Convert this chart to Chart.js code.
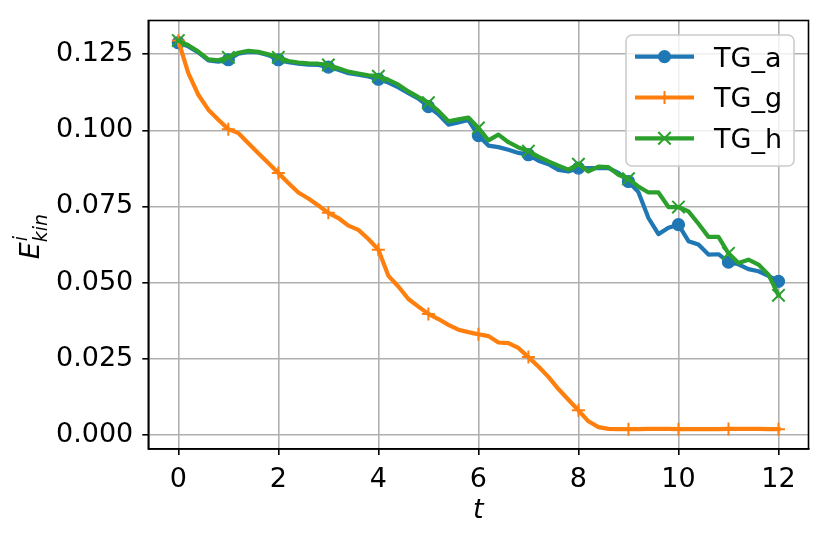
<!DOCTYPE html>
<html>
<head>
<meta charset="utf-8">
<script src="https://cdn.jsdelivr.net/npm/chart.js@4.4.1/dist/chart.umd.min.js"></script>
<style>
  html, body { margin: 0; padding: 0; background: #fff; }
  #wrap { width: 830px; height: 539px; }
</style>
</head>
<body>
<div id="wrap"><canvas id="c" width="830" height="539"></canvas></div>
<script>
// ---- data ----
const tValues = [0,0.2,0.4,0.6,0.8,1,1.2,1.4,1.6,1.8,2,2.2,2.4,2.6,2.8,3,3.2,3.4,3.6,3.8,4,4.2,4.4,4.6,4.8,5,5.2,5.4,5.6,5.8,6,6.2,6.4,6.6,6.8,7,7.2,7.4,7.6,7.8,8,8.2,8.4,8.6,8.8,9,9.2,9.4,9.6,9.8,10,10.2,10.4,10.6,10.8,11,11.2,11.4,11.6,11.8,12];

const tgA = [0.1288,0.1276,0.1256,0.1230,0.1226,0.1232,0.1252,0.1258,0.1256,0.1247,
             0.1232,0.1224,0.1219,0.1216,0.1215,0.1208,0.1199,0.1188,0.1183,0.1177,
             0.1168,0.1157,0.1141,0.1122,0.1104,0.1078,0.1053,0.1019,0.1026,0.1034,
             0.0983,0.0950,0.0945,0.0936,0.0926,0.0920,0.0900,0.0889,0.0870,0.0865,
             0.0876,0.0876,0.0876,0.0876,0.0860,0.0832,0.0797,0.0712,0.0659,0.0680,
             0.0690,0.0636,0.0625,0.0592,0.0593,0.0567,0.0560,0.0544,0.0537,0.0522,
             0.0504];

const tgG = [0.1295,0.1188,0.1117,0.1068,0.1035,0.1004,0.0991,0.0958,0.0925,0.0893,
             0.0860,0.0827,0.0796,0.0776,0.0753,0.0729,0.0712,0.0687,0.0673,0.0643,
             0.0608,0.0522,0.0487,0.0446,0.0421,0.0397,0.0380,0.0361,0.0345,0.0337,
             0.0330,0.0324,0.0303,0.0301,0.0285,0.0255,0.0224,0.0190,0.0150,0.0115,
             0.0080,0.0044,0.0025,0.0019,0.0018,0.0018,0.0018,0.0019,0.0019,0.0019,
             0.0018,0.0018,0.0018,0.0018,0.0018,0.0019,0.0019,0.0019,0.0019,0.0018,
             0.0018];

const tgH = [0.1295,0.1280,0.1259,0.1233,0.1230,0.1240,0.1255,0.1261,0.1258,0.1250,
             0.1240,0.1228,0.1223,0.1220,0.1219,0.1215,0.1204,0.1193,0.1187,0.1181,
             0.1178,0.1166,0.1150,0.1128,0.1109,0.1091,0.1064,0.1030,0.1036,0.1042,
             0.1008,0.0967,0.0986,0.0961,0.0944,0.0932,0.0914,0.0898,0.0884,0.0871,
             0.0889,0.0865,0.0881,0.0879,0.0854,0.0841,0.0815,0.0796,0.0796,0.0748,
             0.0748,0.0734,0.0693,0.0650,0.0650,0.0596,0.0564,0.0575,0.0559,0.0526,
             0.0458];

const seriesNames = ['TG_a', 'TG_g', 'TG_h'];
const xTicks = [0, 2, 4, 6, 8, 10, 12];
const xTickLabels = ['0', '2', '4', '6', '8', '10', '12'];
const yTicks = [0, 0.025, 0.05, 0.075, 0.1, 0.125];
const yTickLabels = ['0.000', '0.025', '0.050', '0.075', '0.100', '0.125'];
const xRange = [-0.6, 12.6];
const yRange = [-0.0047, 0.1361];
const markEvery = 5;

// ---- styles ----
const colors = ['#1f77b4', '#ff7f0e', '#2ca02c'];
const FONT = 'DejaVu Sans';
const FS = 27;
const LW = 4.2;
const pts = arr => tValues.map((t, i) => ({ x: t, y: arr[i] }));
const mkR = r => ctx => (ctx.dataIndex % markEvery === 0 ? r : 0);

const datasets = [
  { label: seriesNames[0], data: pts(tgA), borderColor: colors[0], backgroundColor: colors[0],
    pointStyle: 'circle', pointRadius: mkR(6), pointBorderWidth: 1.2,
    pointBorderColor: colors[0], pointBackgroundColor: colors[0], order: 3 },
  { label: seriesNames[1], data: pts(tgG), borderColor: colors[1], backgroundColor: colors[1],
    pointStyle: 'cross', pointRadius: mkR(6.5), pointBorderWidth: 2,
    pointBorderColor: colors[1], pointBackgroundColor: colors[1], order: 2 },
  { label: seriesNames[2], data: pts(tgH), borderColor: colors[2], backgroundColor: colors[2],
    pointStyle: 'crossRot', pointRadius: mkR(8.8), pointBorderWidth: 2,
    pointBorderColor: colors[2], pointBackgroundColor: colors[2], order: 1 }
];
datasets.forEach(d => {
  d.borderWidth = LW; d.tension = 0; d.fill = false;
  d.borderJoinStyle = 'round'; d.borderCapStyle = 'square';
  d.pointHoverRadius = 0;
});

const framePlugin = {
  id: 'frame',
  afterDatasetsDraw(chart) {
    const { ctx, chartArea: a } = chart;
    ctx.save();
    ctx.strokeStyle = '#000';
    ctx.lineWidth = 1.6;
    ctx.strokeRect(a.left, a.top, a.right - a.left, a.bottom - a.top);
    ctx.restore();
  }
};

const textPlugin = {
  id: 'texts',
  afterDraw(chart) {
    const { ctx, chartArea: a } = chart;
    ctx.save();
    ctx.fillStyle = '#000';
    // x-axis title
    ctx.font = 'italic ' + FS + 'px "' + FONT + '"';
    ctx.textAlign = 'center';
    ctx.textBaseline = 'alphabetic';
    ctx.fillText('t', (a.left + a.right) / 2, 518);
    // y-axis title E^i_kin
    ctx.save();
    ctx.translate(39, (a.top + a.bottom) / 2 + 2);
    ctx.rotate(-Math.PI / 2);
    ctx.textAlign = 'left';
    const big = 'italic ' + FS + 'px "' + FONT + '"';
    const small = 'italic ' + (FS * 0.7) + 'px "' + FONT + '"';
    ctx.font = big;
    const wE = ctx.measureText('E').width;
    ctx.font = small;
    const wK = ctx.measureText('kin').width;
    const x0 = -(wE + wK) / 2;
    ctx.font = big;
    ctx.fillText('E', x0, 0);
    ctx.font = small;
    ctx.fillText('kin', x0 + wE, 8);
    ctx.fillText('i', x0 + wE + 1, -12);
    ctx.restore();

    // legend
    const bx = 626, by = 35, bw = 168, bh = 131, r = 6;
    ctx.beginPath();
    ctx.moveTo(bx + r, by);
    ctx.arcTo(bx + bw, by, bx + bw, by + bh, r);
    ctx.arcTo(bx + bw, by + bh, bx, by + bh, r);
    ctx.arcTo(bx, by + bh, bx, by, r);
    ctx.arcTo(bx, by, bx + bw, by, r);
    ctx.closePath();
    ctx.fillStyle = 'rgba(255,255,255,0.8)';
    ctx.fill();
    ctx.strokeStyle = '#cccccc';
    ctx.lineWidth = 1.6;
    ctx.stroke();

    const rows = [56.7, 97.5, 138.3];
    const styles = ['circle', 'cross', 'crossRot'];
    const radii = [6, 6.5, 8.8];
    const pbw = [1.2, 2, 2];
    rows.forEach((yy, i) => {
      ctx.strokeStyle = colors[i];
      ctx.lineWidth = LW;
      ctx.lineCap = 'butt';
      ctx.beginPath();
      ctx.moveTo(635, yy);
      ctx.lineTo(694, yy);
      ctx.stroke();
      ctx.fillStyle = colors[i];
      ctx.lineWidth = pbw[i];
      Chart.helpers.drawPoint(ctx, { pointStyle: styles[i], radius: radii[i], rotation: 0, borderWidth: pbw[i] }, 664.5, yy);
      ctx.fillStyle = '#000';
      ctx.font = FS + 'px "' + FONT + '"';
      ctx.textAlign = 'left';
      ctx.textBaseline = 'alphabetic';
      ctx.fillText(seriesNames[i], 714, yy + 9.8);
    });
    ctx.restore();
  }
};

new Chart(document.getElementById('c'), {
  type: 'line',
  data: { datasets },
  options: {
    responsive: false,
    devicePixelRatio: 1,
    animation: false,
    events: [],
    layout: { padding: { left: 0, right: 21.5, top: 20.5, bottom: 0 } },
    plugins: { legend: { display: false }, tooltip: { enabled: false } },
    scales: {
      x: {
        type: 'linear',
        min: xRange[0], max: xRange[1],
        afterBuildTicks: s => { s.ticks = xTicks.map(v => ({ value: v })); },
        afterFit: s => { s.height = 90; s.paddingLeft = 0; s.paddingRight = 0; },
        ticks: {
          autoSkip: false, maxRotation: 0, padding: 9, color: '#000',
          font: { family: FONT, size: FS },
          callback: (v, i) => xTickLabels[i]
        },
        grid: { color: '#b0b0b0', lineWidth: 1.6, tickLength: 6, tickColor: '#000', tickWidth: 1.6 },
        border: { display: true, color: '#000', width: 1.6 }
      },
      y: {
        type: 'linear',
        min: yRange[0], max: yRange[1],
        afterBuildTicks: s => { s.ticks = yTicks.map(v => ({ value: v })); },
        afterFit: s => { s.width = 148.3; s.paddingTop = 0; s.paddingBottom = 0; },
        ticks: {
          autoSkip: false, padding: 9, color: '#000',
          font: { family: FONT, size: FS },
          callback: (v, i) => yTickLabels[i]
        },
        grid: { color: '#b0b0b0', lineWidth: 1.6, tickLength: 6, tickColor: '#000', tickWidth: 1.6 },
        border: { display: true, color: '#000', width: 1.6 }
      }
    }
  },
  plugins: [framePlugin, textPlugin]
});
</script>
</body>
</html>
